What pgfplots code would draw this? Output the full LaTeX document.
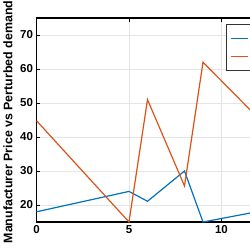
\documentclass[border=0pt]{standalone}
\usepackage{pgfplots}
\pgfplotsset{compat=1.18}
\usepackage{fontspec}
\setmainfont{Liberation Sans}
\definecolor{mblue}{rgb}{0,0.447,0.741}
\definecolor{morange}{rgb}{0.85,0.325,0.098}
\begin{document}
\begin{tikzpicture}
\begin{axis}[
  name=ax,
  scale only axis,
  width=370pt, height=204pt,
  xmin=0, xmax=20, ymin=15, ymax=75,
  xtick={0,5,10}, ytick={20,30,40,50,60,70},
  tick align=inside,
  major tick length=4pt,
  grid=major,
  grid style={gray!20, line width=0.6pt},
  axis line style={black, line width=1.1pt},
  tick style={black, line width=0.8pt},
  /pgf/number format/assume math mode=true,
  ticklabel style={font=\fontsize{11.5}{13}\selectfont\bfseries},
  ylabel={Manufacturer Price vs Perturbed demand},
  ylabel style={font=\fontsize{12.4}{14}\selectfont\bfseries, at={(axis description cs:-0.077,0.49)}, anchor=center},
  legend style={at={(axis description cs:0.5114,0.9706)}, anchor=north west, draw=black!80, line width=1.3pt, font=\fontsize{11}{13}\selectfont\bfseries, row sep=5pt, inner ysep=7pt, inner xsep=4pt},
  legend cell align=left,
]
\addplot[mblue, line width=1.2pt] coordinates {(0,18) (5,24) (6,21.1) (8,30) (9,15) (12,18.1)};
\addlegendentry{Manufacturer Price}
\addplot[morange, line width=1.2pt] coordinates {(0,44.8) (5,15) (6,51) (8,25.6) (9,62) (12,45.5)};
\addlegendentry{Perturbed demand}
\end{axis}
\pgfresetboundingbox
\useasboundingbox ([shift={(-36.5pt,-28pt)}]ax.south west) rectangle ([shift={(213.5pt,222pt)}]ax.south west);
\end{tikzpicture}
\end{document}
